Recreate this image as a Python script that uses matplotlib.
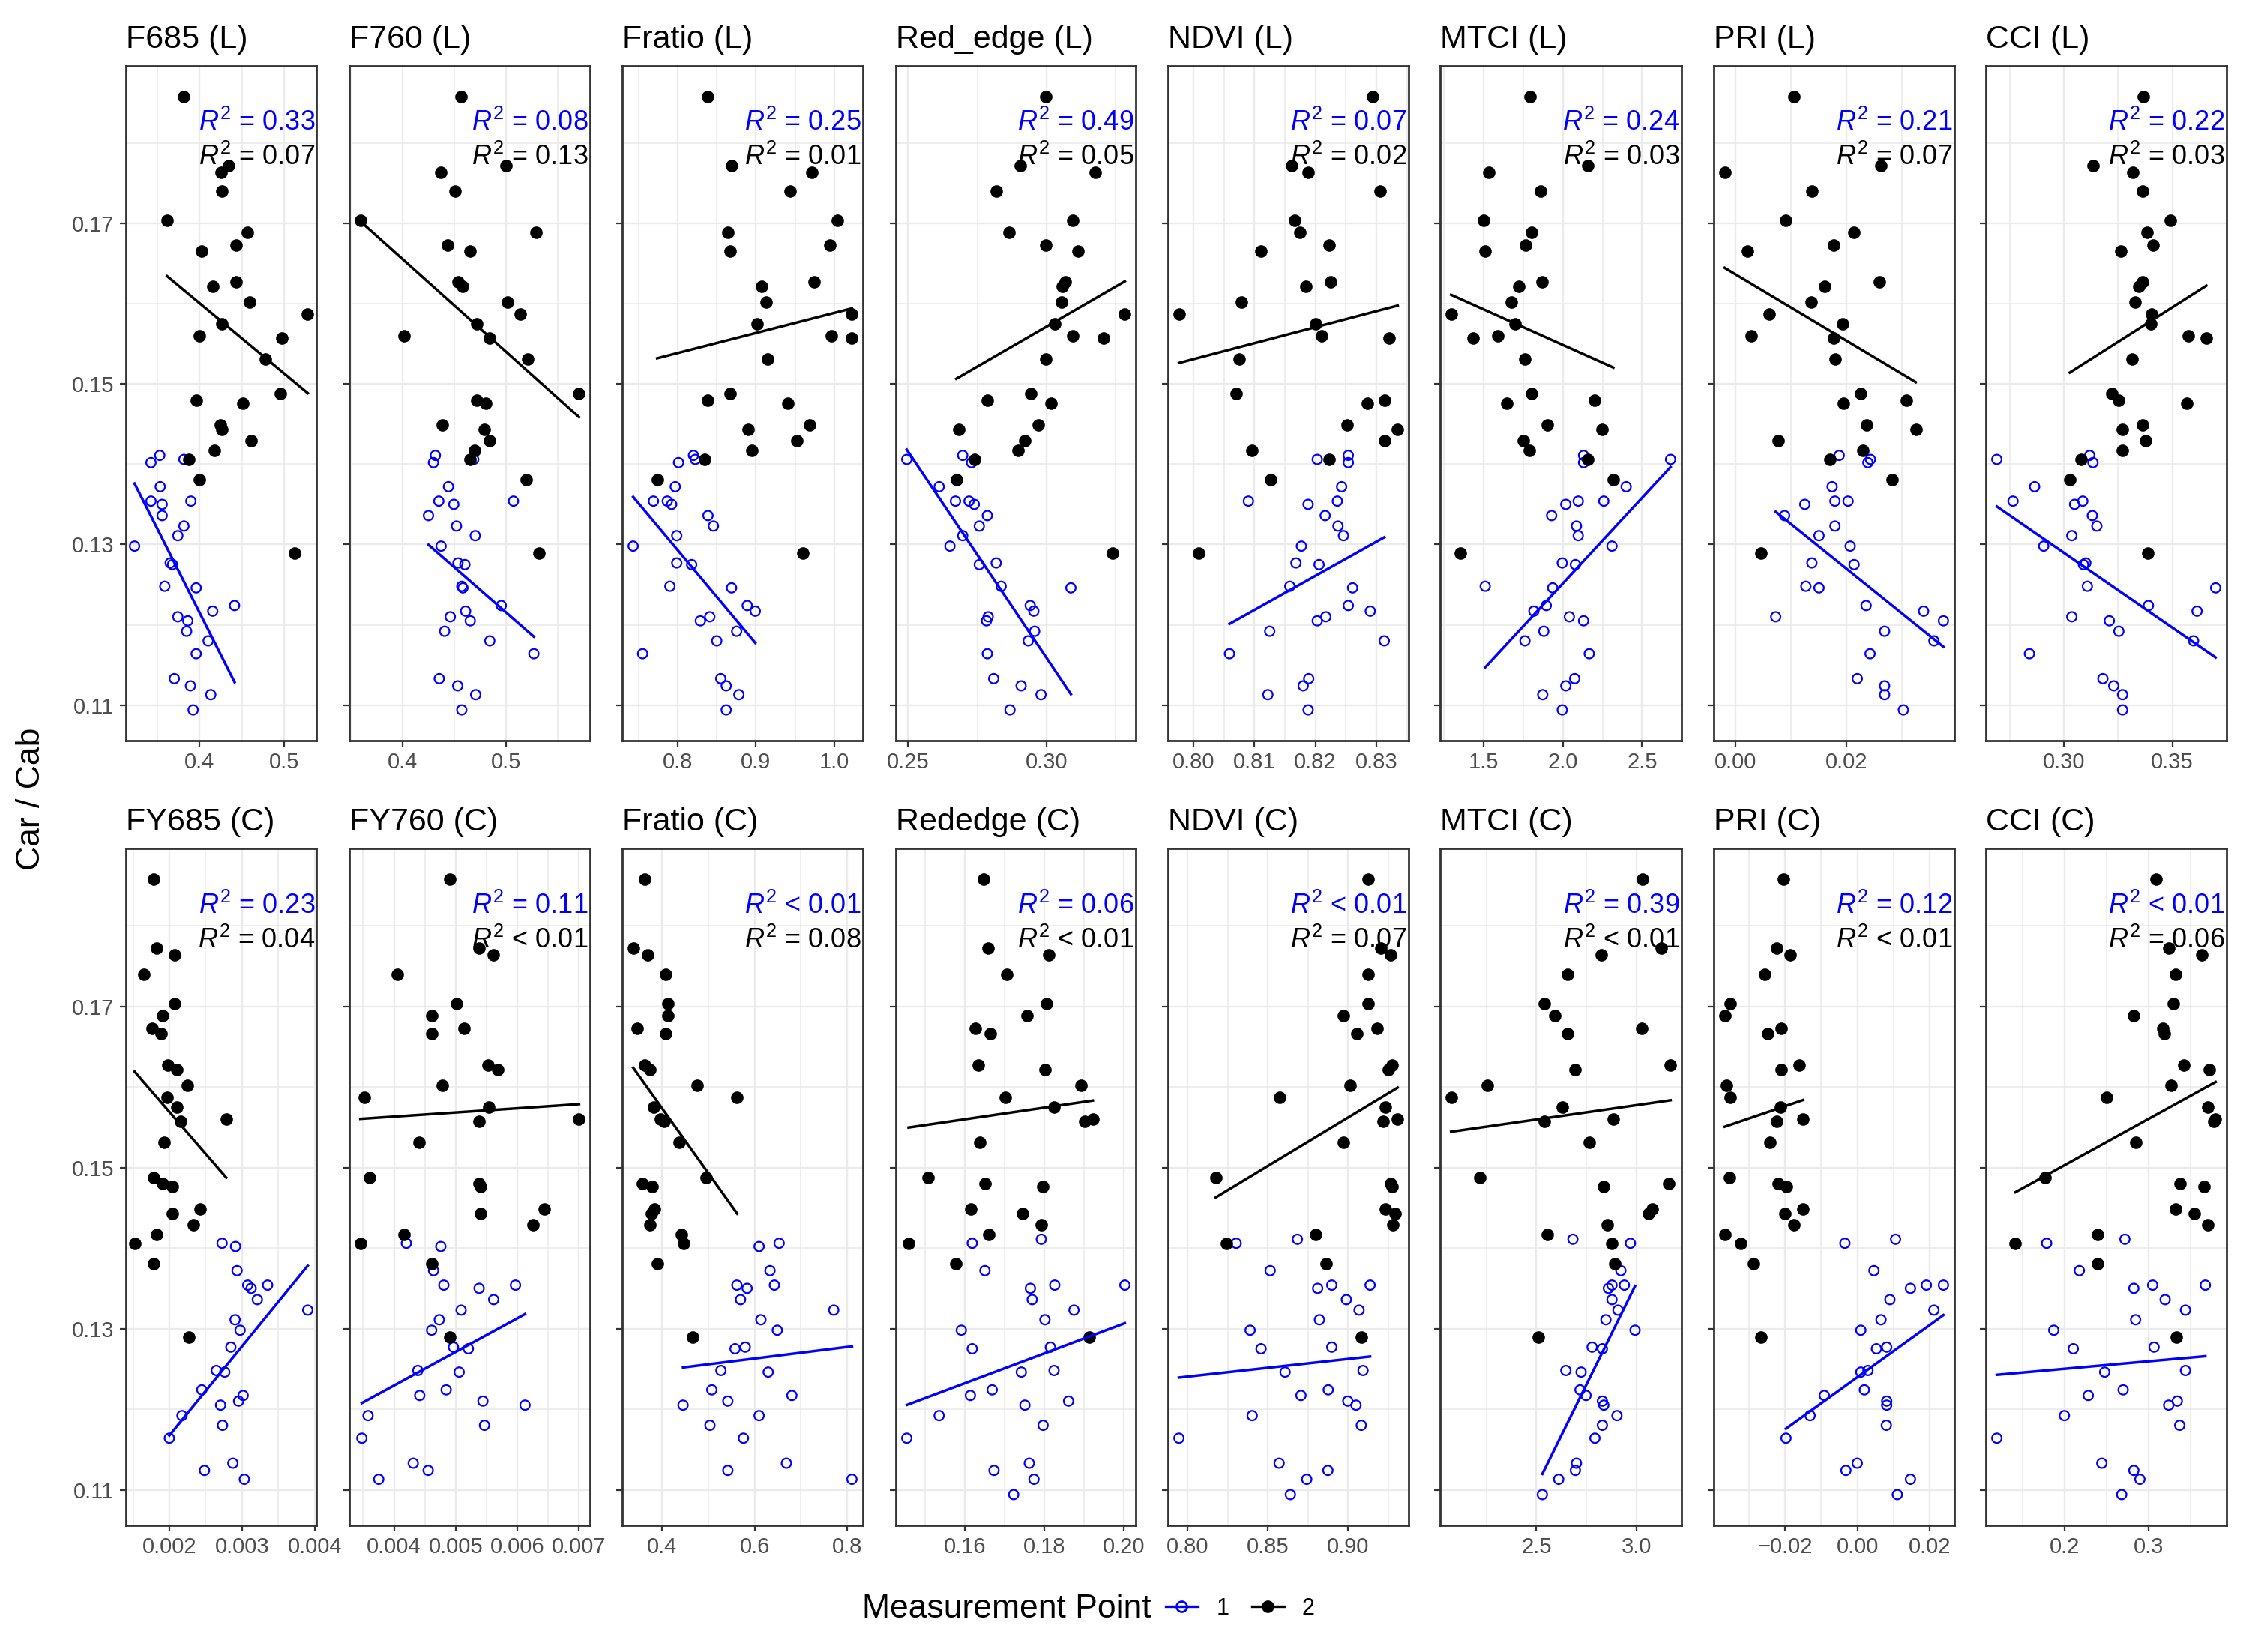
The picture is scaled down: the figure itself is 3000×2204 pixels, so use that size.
import numpy as np
import matplotlib.pyplot as plt
from matplotlib.lines import Line2D
from matplotlib.ticker import MultipleLocator

plt.rcParams["font.family"] = ["Liberation Sans", "DejaVu Sans"]
plt.rcParams["mathtext.fontset"] = "custom"
plt.rcParams["mathtext.rm"] = "Liberation Sans"
plt.rcParams["mathtext.it"] = "Liberation Sans:italic"

nan = np.nan

# Car / Cab values, shared by every panel (point 1 = blue, point 2 = black)
car_cab_1 = [0.1411, 0.1406, 0.1402, 0.1372, 0.1354, 0.1354, 0.1350, 0.1336, 0.1323,
             0.1311, 0.1298, 0.1277, 0.1275, 0.1248, 0.1246, 0.1224, 0.1217, 0.1210,
             0.1205, 0.1192, 0.1180, 0.1164, 0.1133, 0.1124, 0.1113, 0.1094]
car_cab_2 = [0.1858, 0.1772, 0.1764, 0.1740, 0.1704, 0.1689, 0.1673, 0.1666, 0.1627,
             0.1622, 0.1602, 0.1587, 0.1575, 0.1560, 0.1557, 0.1531, 0.1488, 0.1480,
             0.1476, 0.1449, 0.1443, 0.1429, 0.1417, 0.1406, 0.1381, 0.1289]

# index values, leaf level (L)
f685_l_1 = [0.3529, 0.3814, 0.3425, 0.3534, 0.3425, 0.3896, 0.3557, 0.3557, 0.3814, 0.3742,
            0.3231, 0.3652, 0.3679, 0.3588, 0.3959, 0.4412, 0.4154, 0.3742, 0.3860, 0.3846,
            0.4100, 0.3959, 0.3701, 0.3891, 0.4131, 0.3923]
f685_l_2 = [0.3814, 0.4344, 0.4253, 0.4262, 0.3615, 0.4566, 0.4434, 0.4027, 0.4434, 0.4154,
            0.4588, 0.5276, 0.4262, 0.4000, 0.4973, 0.4774, 0.4950, 0.3959, 0.4511, 0.4244,
            0.4262, 0.4606, 0.4176, 0.3869, 0.4000, 0.5118]
f760_l_1 = [0.4315, 0.4685, 0.4296, 0.4441, 0.4348, 0.5070, 0.4493, 0.4248, 0.4519, 0.4700,
            0.4370, 0.4533, 0.4600, 0.4570, 0.4581, 0.4952, 0.4607, 0.4459, 0.4652, 0.4404,
            0.4841, 0.5267, 0.4352, 0.4530, 0.4704, 0.4570]
f760_l_2 = [0.4563, 0.5000, 0.4370, 0.4507, 0.3589, 0.5285, 0.4433, 0.4648, 0.4537, 0.4581,
            0.5015, 0.5137, 0.4715, 0.4015, 0.4841, 0.5211, 0.5704, 0.4715, 0.4804, 0.4381,
            0.4789, 0.4841, 0.4693, 0.4648, 0.5196, 0.5315]
fratio_l_1 = [0.8200, 0.8223, 0.8009, 0.7967, 0.7688, 0.7865, 0.7921, 0.8386, 0.8456, 0.7986,
              0.7428, 0.7986, 0.8177, 0.7898, 0.8688, 0.8888, 0.8991, 0.8409, 0.8288, 0.8753,
              0.8498, 0.7549, 0.8549, 0.8619, 0.8781, 0.8619]
fratio_l_2 = [0.8386, 0.8688, 0.9712, 0.9433, 1.0042, 0.8642, 0.9944, 0.8665, 0.9744, 0.9074,
              0.9130, 1.0228, 0.9014, 0.9967, 1.0228, 0.9153, 0.8665, 0.8386, 0.9405, 0.9688,
              0.8898, 0.9526, 0.8944, 0.8340, 0.7735, 0.9605]
rededge_l_1 = [0.2697, 0.2495, 0.2729, 0.2612, 0.2671, 0.2720, 0.2739, 0.2786, 0.2757, 0.2697,
               0.2651, 0.2818, 0.2757, 0.2836, 0.3088, 0.2941, 0.2954, 0.2789, 0.2783, 0.2957,
               0.2934, 0.2786, 0.2809, 0.2908, 0.2980, 0.2868]
rededge_l_2 = [0.2996, 0.2904, 0.3176, 0.2818, 0.3095, 0.2864, 0.2996, 0.3114, 0.3068, 0.3058,
               0.3053, 0.3283, 0.3029, 0.3095, 0.3207, 0.2996, 0.2943, 0.2786, 0.3016, 0.2970,
               0.2684, 0.2921, 0.2897, 0.2739, 0.2674, 0.3239]
ndvi_l_1 = [0.8254, 0.8203, 0.8254, 0.8243, 0.8090, 0.8236, 0.8188, 0.8216, 0.8237, 0.8246,
            0.8177, 0.8168, 0.8206, 0.8158, 0.8261, 0.8254, 0.8290, 0.8217, 0.8203, 0.8125,
            0.8313, 0.8059, 0.8189, 0.8180, 0.8122, 0.8188]
ndvi_l_2 = [0.8294, 0.8161, 0.8188, 0.8306, 0.8166, 0.8174, 0.8222, 0.8111, 0.8225, 0.8184,
            0.8078, 0.7976, 0.8201, 0.8210, 0.8321, 0.8075, 0.8070, 0.8313, 0.8285, 0.8252,
            0.8335, 0.8313, 0.8096, 0.8222, 0.8127, 0.8009]
mtci_l_1 = [2.1300, 2.6794, 2.1300, 2.3991, 2.0964, 2.2578, 2.0179, 1.9283, 2.0852, 2.0964,
            2.3094, 1.9955, 2.0785, 1.5090, 1.9350, 1.8946, 1.8161, 2.0404, 2.1300, 1.8789,
            1.7601, 2.1659, 2.0740, 2.0179, 1.8722, 1.9955]
mtci_l_2 = [1.7915, 2.1570, 1.5336, 1.8610, 1.5000, 1.8027, 1.7646, 1.5090, 1.8700, 1.7197,
            1.6749, 1.2937, 1.6973, 1.5897, 1.4327, 1.7601, 1.8027, 2.2018, 1.6480, 1.9013,
            2.2489, 1.7511, 1.7870, 2.1570, 2.3184, 1.3520]
pri_l_1 = [0.01866, 0.02428, 0.02383, 0.01738, 0.01789, 0.02026, 0.01246, 0.00882, 0.01789,
           0.01502, 0.02064, 0.01374, 0.02134, 0.01265, 0.01502, 0.02351, 0.03387, 0.00722,
           0.03744, 0.02684, 0.03572, 0.02422, 0.02192, 0.02684, 0.02684, 0.03022]
pri_l_2 = [0.01054, 0.02620, -0.00198, 0.01374, 0.00901, 0.02128, 0.01770, 0.00217, 0.02588,
           0.01604, 0.01367, 0.00607, 0.01923, 0.00275, 0.01764, 0.01796, 0.02256, 0.03073,
           0.01936, 0.02358, 0.03246, 0.00767, 0.02294, 0.01693, 0.02818, 0.00454]
cci_l_1 = [0.3118, 0.2688, 0.3133, 0.2863, 0.2763, 0.3086, 0.3048, 0.3130, 0.3151, 0.3035,
           0.2905, 0.3100, 0.3089, 0.3107, 0.3701, 0.3390, 0.3615, 0.3035, 0.3209, 0.3253,
           0.3599, 0.2839, 0.3179, 0.3229, 0.3270, 0.3270]
cci_l_2 = [0.3365, 0.3135, 0.3319, 0.3362, 0.3492, 0.3385, 0.3413, 0.3263, 0.3363, 0.3344,
           0.3327, 0.3405, 0.3401, 0.3574, 0.3658, 0.3314, 0.3220, 0.3253, 0.3566, 0.3363,
           0.3268, 0.3378, 0.3270, 0.3077, 0.3026, 0.3388]

# index values, canopy level (C)
fy685_c_1 = [nan, 0.002726, 0.002911, 0.002932, 0.003079, 0.003353, 0.003126, 0.003211,
             0.003905, 0.002905, 0.002974, 0.002847, nan, 0.002647, 0.002763, 0.002447,
             0.003016, 0.002953, 0.002705, 0.002174, 0.002732, 0.002000, 0.002874, 0.002484,
             0.003032, nan]
fy685_c_2 = [0.001779, 0.001826, 0.002074, 0.001647, 0.002074, 0.001911, 0.001763, 0.001889,
             0.001984, 0.002100, 0.002253, 0.001974, 0.002100, 0.002784, 0.002158, 0.001926,
             0.001779, 0.001905, 0.002037, 0.002426, 0.002037, 0.002332, 0.001826, 0.001521,
             0.001779, 0.002268]
fy760_c_1 = [nan, 0.004199, 0.004758, 0.004640, 0.004807, 0.005969, 0.005379, 0.005615,
             0.005087, 0.004733, 0.004609, 0.004963, 0.005205, 0.004385, 0.005056, 0.004845,
             0.004416, 0.005441, 0.006124, 0.003578, 0.005466, 0.003478, 0.004311, 0.004553,
             0.003752, nan]
fy760_c_2 = [0.004907, 0.005379, 0.005615, 0.004050, 0.005019, 0.004609, 0.005137, 0.004609,
             0.005522, 0.005677, 0.004783, 0.003522, 0.005540, 0.007000, 0.005379, 0.004404,
             0.003609, 0.005379, 0.005398, 0.006441, 0.005398, 0.006255, 0.004168, 0.003453,
             0.004609, 0.004907]
fratio_c_1 = [nan, 0.6532, 0.6098, 0.6334, 0.5617, 0.6429, 0.5838, 0.5696, 0.7715, 0.6137,
              0.6492, 0.5798, 0.5577, 0.5270, 0.6295, 0.5073, 0.6808, 0.5420, 0.4450, 0.6098,
              0.5033, 0.5759, 0.6689, 0.5420, 0.8109, nan]
fratio_c_2 = [0.3614, 0.3369, 0.3692, 0.4079, 0.4126, 0.4126, 0.3456, 0.4079, 0.3621, 0.3732,
              0.4757, 0.5625, 0.3811, 0.3968, 0.4039, 0.4363, 0.4954, 0.3574, 0.3787, 0.3826,
              0.3763, 0.3732, 0.4418, 0.4457, 0.3890, 0.4655]
rededge_c_1 = [0.17922, 0.16183, nan, 0.16503, 0.18261, 0.20027, 0.17648, 0.17693, 0.18746,
               0.18014, 0.15908, 0.18151, 0.16183, 0.18243, 0.17419, 0.16686, 0.16137,
               0.18609, 0.17510, 0.15350, 0.17968, 0.14535, 0.17620, 0.16732, 0.17739, 0.17227]
rededge_c_2 = [0.1646, 0.1659, 0.1812, 0.1705, 0.1806, 0.1757, 0.1627, 0.1664, 0.1634, 0.1801,
               0.1893, 0.1701, 0.1824, 0.1922, 0.1902, 0.1637, 0.1508, 0.1650, 0.1796, 0.1614,
               0.1746, 0.1792, 0.1661, 0.1458, 0.1577, 0.1913]
ndvi_c_1 = [0.8684, 0.8302, nan, 0.8514, 0.8898, 0.9137, 0.8810, 0.8989, 0.9068, 0.8821,
            0.8389, 0.8898, 0.8457, 0.9093, 0.8607, 0.8876, 0.8706, 0.8998, 0.9049, 0.8402,
            0.9082, 0.7945, 0.8570, 0.8874, 0.8742, 0.8640]
ndvi_c_2 = [0.9126, 0.9203, 0.9263, 0.9126, 0.9126, 0.8969, 0.9181, 0.9057, 0.9274, 0.9252,
            0.9013, 0.8572, 0.9230, 0.9309, 0.9219, 0.8969, 0.8174, 0.9263, 0.9274, 0.9230,
            0.9291, 0.9278, 0.8799, 0.8243, 0.8865, 0.9082]
mtci_c_1 = [2.6826, 2.9699, nan, 2.9220, 2.8777, 2.9397, 2.8599, 2.8777, 2.9078, 2.8475,
            2.9929, 2.7784, 2.8298, 2.6472, 2.7234, 2.7181, 2.7482, 2.8298, 2.8369, 2.9025,
            2.8298, 2.7926, 2.7004, 2.6950, 2.6117, 2.5301]
mtci_c_2 = [3.0319, 3.1241, 2.8245, 2.6560, 2.5408, 2.5940, 3.0248, 2.6560, 3.1702, 2.6950,
            2.2571, 2.0745, 2.6294, 2.8848, 2.5408, 2.7660, 2.2199, 3.1596, 2.8369, 3.0780,
            3.0585, 2.8546, 2.5567, 2.8759, 2.8901, 2.5106]
pri_c_1 = [0.01051, -0.00347, nan, 0.00455, 0.01902, 0.02372, 0.01462, 0.00895, 0.02108,
           0.00650, 0.00093, 0.00807, 0.00523, 0.00289, 0.00093, 0.00191, -0.00914, 0.00807,
           0.00807, -0.01306, 0.00797, -0.01971, -0.00005, -0.00318, 0.01462, 0.01100]
pri_c_2 = [-0.02049, -0.02225, -0.01863, -0.02557, -0.03516, -0.03663, -0.02098, -0.02469,
           -0.01609, -0.02108, -0.03623, -0.03516, -0.02127, -0.01501, -0.02225, -0.02421,
           -0.03526, -0.02196, -0.01961, -0.01501, -0.02000, -0.01746, -0.03663, -0.03223,
           -0.02861, -0.02665]
cci_c_1 = [0.2717, 0.1789, nan, 0.2177, 0.3046, 0.3671, 0.2823, 0.3194, 0.3435, 0.2844,
           0.1873, 0.3063, 0.2105, 0.3435, 0.2477, 0.2696, 0.2283, 0.3338, 0.3236, 0.2000,
           0.3367, 0.1198, 0.2443, 0.2823, 0.2895, 0.2679]
cci_c_2 = [0.3089, 0.3236, 0.3633, 0.3321, 0.3287, 0.2823, 0.3169, 0.3181, 0.3414, 0.3717,
           0.3266, 0.2498, 0.3696, 0.3793, 0.3772, 0.2844, 0.1768, 0.3371, 0.3654, 0.3321,
           0.3540, 0.3696, 0.2392, 0.1418, 0.2392, 0.3329]

titles = ["F685 (L)", "F760 (L)", "Fratio (L)", "Red_edge (L)", "NDVI (L)", "MTCI (L)",
          "PRI (L)", "CCI (L)",
          "FY685 (C)", "FY760 (C)", "Fratio (C)", "Rededge (C)", "NDVI (C)", "MTCI (C)",
          "PRI (C)", "CCI (C)"]
series_1 = [f685_l_1, f760_l_1, fratio_l_1, rededge_l_1, ndvi_l_1, mtci_l_1, pri_l_1, cci_l_1,
            fy685_c_1, fy760_c_1, fratio_c_1, rededge_c_1, ndvi_c_1, mtci_c_1, pri_c_1, cci_c_1]
series_2 = [f685_l_2, f760_l_2, fratio_l_2, rededge_l_2, ndvi_l_2, mtci_l_2, pri_l_2, cci_l_2,
            fy685_c_2, fy760_c_2, fratio_c_2, rededge_c_2, ndvi_c_2, mtci_c_2, pri_c_2, cci_c_2]
x_ticks = [[0.4, 0.5], [0.4, 0.5], [0.8, 0.9, 1.0], [0.25, 0.30], [0.80, 0.81, 0.82, 0.83],
           [1.5, 2.0, 2.5], [0.00, 0.02], [0.30, 0.35],
           [0.002, 0.003, 0.004], [0.004, 0.005, 0.006, 0.007], [0.4, 0.6, 0.8],
           [0.16, 0.18, 0.20], [0.80, 0.85, 0.90], [2.5, 3.0], [-0.02, 0.00, 0.02], [0.2, 0.3]]
x_labels = [["0.4", "0.5"], ["0.4", "0.5"], ["0.8", "0.9", "1.0"], ["0.25", "0.30"],
            ["0.80", "0.81", "0.82", "0.83"], ["1.5", "2.0", "2.5"], ["0.00", "0.02"],
            ["0.30", "0.35"],
            ["0.002", "0.003", "0.004"], ["0.004", "0.005", "0.006", "0.007"],
            ["0.4", "0.6", "0.8"], ["0.16", "0.18", "0.20"], ["0.80", "0.85", "0.90"],
            ["2.5", "3.0"], ["\u22120.02", "0.00", "0.02"], ["0.2", "0.3"]]
r2_1 = ["= 0.33", "= 0.08", "= 0.25", "= 0.49", "= 0.07", "= 0.24", "= 0.21", "= 0.22",
        "= 0.23", "= 0.11", "< 0.01", "= 0.06", "< 0.01", "= 0.39", "= 0.12", "< 0.01"]
r2_2 = ["= 0.07", "= 0.13", "= 0.01", "= 0.05", "= 0.02", "= 0.03", "= 0.07", "= 0.03",
        "= 0.04", "< 0.01", "= 0.08", "< 0.01", "= 0.07", "< 0.01", "< 0.01", "= 0.06"]
y_ticks = [0.11, 0.13, 0.15, 0.17]
y_labels = ["0.11", "0.13", "0.15", "0.17"]

# layout (figure pixels)
W, H = 3000, 2204
col_left = [168, 466, 830, 1195, 1558, 1921, 2286, 2649]
col_right = [422, 787, 1151, 1515, 1879, 2243, 2607, 2970]
row_top = [88, 1132]
row_bottom = [988, 2035]

y_all = np.array(car_cab_1 + car_cab_2)
y_pad = 0.05 * (y_all.max() - y_all.min())
y_lim = (y_all.min() - y_pad, y_all.max() + y_pad)

fig = plt.figure(figsize=(15, 11.02), dpi=200)

for i, title in enumerate(titles):
    row, col = divmod(i, 8)
    ax = fig.add_axes([col_left[col] / W, 1 - row_bottom[row] / H,
                       (col_right[col] - col_left[col]) / W,
                       (row_bottom[row] - row_top[row]) / H])

    y1 = np.array(car_cab_1)
    y2 = np.array(car_cab_2)
    x1 = np.array(series_1[i])
    x2 = np.array(series_2[i])

    ax.scatter(x1, y1, s=21, facecolors="none", edgecolors="blue", linewidths=0.8, zorder=2)
    ax.scatter(x2, y2, s=36, color="black", linewidths=0, zorder=3)

    for x, y, colour in [(x1, y1, "blue"), (x2, y2, "black")]:
        ok = ~np.isnan(x)
        coef = np.polyfit(x[ok], y[ok], 1)
        xs = np.array([x[ok].min(), x[ok].max()])
        ax.plot(xs, np.polyval(coef, xs), color=colour, lw=1.25, zorder=4)

    ax.set_ylim(y_lim)
    ax.set_xticks(x_ticks[i], x_labels[i])
    ax.xaxis.set_minor_locator(MultipleLocator((x_ticks[i][1] - x_ticks[i][0]) / 2))
    ax.set_yticks(y_ticks, y_labels)
    ax.yaxis.set_minor_locator(MultipleLocator(0.01))

    ax.grid(True, which="major", color="#EBEBEB", lw=0.85)
    ax.grid(True, which="minor", color="#EBEBEB", lw=0.6)
    ax.set_axisbelow(True)
    for sp in ax.spines.values():
        sp.set_color("#333333")
        sp.set_linewidth(1.0)
    ax.tick_params(which="major", length=2.75, width=0.8, color="#333333",
                   labelsize=10.5, labelcolor="#4D4D4D", pad=2.7)
    ax.tick_params(which="minor", length=0)
    ax.tick_params(axis="y", labelleft=(col == 0), pad=2.8)

    ax.set_title(title, loc="left", fontsize=15.5, pad=8.6)
    ax.text(0.992, 0.904, "$R^2$ " + r2_1[i], transform=ax.transAxes, ha="right",
            va="baseline", color="blue", fontsize=13, zorder=5)
    ax.text(0.992, 0.853, "$R^2$ " + r2_2[i], transform=ax.transAxes, ha="right",
            va="baseline", color="black", fontsize=13, zorder=5)

fig.text(42 / W, 1 - 1066 / H, "Car / Cab", rotation=90, ha="center", va="center",
         fontsize=16)

# legend at the bottom
leg_y = 1 - 2146 / H
fig.text(1536 / W, leg_y, "Measurement Point", ha="right", va="center", fontsize=16)
handles = [Line2D([0], [0], color="blue", lw=1.2, marker="o", mfc="none", mec="blue", ms=5),
           Line2D([0], [0], color="black", lw=1.2, marker="o", ms=5)]
fig.legend(handles, ["1", "2"], loc="center left", bbox_to_anchor=(1555 / W, leg_y),
           ncol=2, frameon=False, fontsize=11, handlelength=1.4, handletextpad=0.8,
           columnspacing=1.0, borderaxespad=0, borderpad=0)

fig.savefig("out.png", dpi=200, facecolor="white")
